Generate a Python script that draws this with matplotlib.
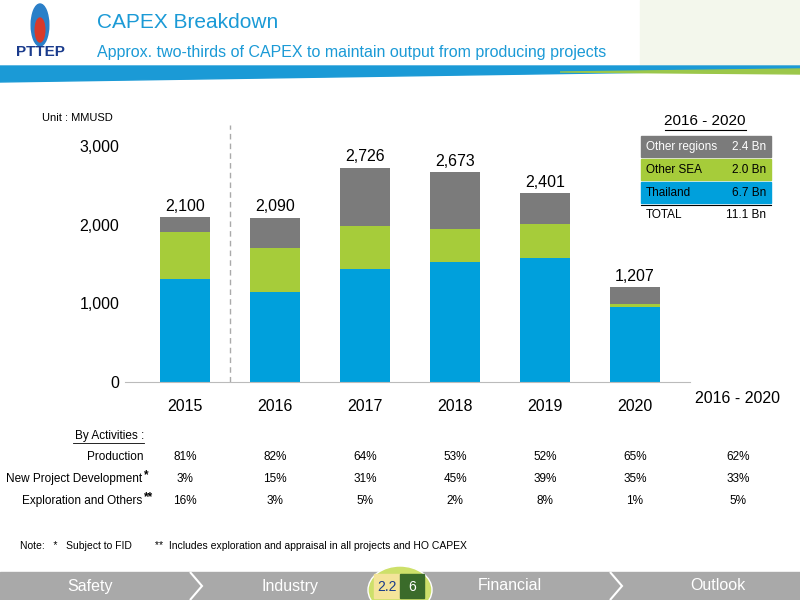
import matplotlib.pyplot as plt
from matplotlib.patches import Rectangle, Polygon, Circle, Ellipse

years = ['2015', '2016', '2017', '2018', '2019', '2020']
thailand = [1309, 1144, 1436, 1525, 1576, 953]
other_sea = [598, 559, 547, 420, 432, 38]
totals = [2100, 2090, 2726, 2673, 2401, 1207]
other_regions = [t - a - b for t, a, b in zip(totals, thailand, other_sea)]

legend_rows = [('Other regions', '2.4 Bn'), ('Other SEA', '2.0 Bn'), ('Thailand', '6.7 Bn')]
act_labels = ['Production', 'New Project Development', 'Exploration and Others']
act_marks = ['', '*', '**']
act_values = [
    ['81%', '82%', '64%', '53%', '52%', '65%', '62%'],
    ['3%', '15%', '31%', '45%', '39%', '35%', '33%'],
    ['16%', '3%', '5%', '2%', '8%', '1%', '5%'],
]

BLUE = '#00a0dc'
GREEN = '#a6cc3a'
GREY = '#7b7b7b'
TITLE_BLUE = '#1b9ad6'

W, H = 800, 600
fig = plt.figure(figsize=(8, 6), dpi=100)
plt.rcParams['font.family'] = ['Liberation Sans', 'DejaVu Sans']


def fx(x):
    return x / W


def fy(y):
    return 1 - y / H


def t(x, y, s, **kw):
    fig.text(fx(x), fy(y), s, **kw)


# header
fig.patches.append(Rectangle((fx(640), fy(66)), fx(160), 66 / H, transform=fig.transFigure,
                             color='#f3f7ec'))
t(97, 22, 'CAPEX Breakdown', fontsize=15, color=TITLE_BLUE, va='center')
t(97, 52, 'Approx. two-thirds of CAPEX to maintain output from producing projects',
  fontsize=11.5, color=TITLE_BLUE, va='center')
t(40, 52, 'PTTEP', fontsize=11, color='#1a3b8c', weight='bold', ha='center', va='center')
fig.patches.append(Ellipse((fx(40), fy(25)), 0.022, 0.07, transform=fig.transFigure,
                           color='#2a7fc8'))
fig.patches.append(Ellipse((fx(40), fy(30)), 0.012, 0.04, transform=fig.transFigure,
                           color='#d83a2a'))
fig.patches.append(Polygon([(fx(0), fy(66)), (fx(800), fy(66)), (fx(800), fy(70)),
                            (fx(0), fy(82))], closed=True, transform=fig.transFigure,
                           color=TITLE_BLUE))
fig.patches.append(Polygon([(fx(560), fy(72)), (fx(800), fy(69)), (fx(800), fy(74))],
                           closed=True, transform=fig.transFigure, color='#9cc74a'))

# chart
ax = fig.add_axes([fx(125), fy(382), fx(565), 236 / H])
x = list(range(len(years)))
ax.bar(x, thailand, width=0.56, color=BLUE)
ax.bar(x, other_sea, width=0.56, bottom=thailand, color=GREEN)
bot2 = [a + b for a, b in zip(thailand, other_sea)]
ax.bar(x, other_regions, width=0.56, bottom=bot2, color=GREY)
for i, v in enumerate(totals):
    ax.text(i, v + 40, f'{v:,}', ha='center', va='bottom', fontsize=11.5)
ax.set_xlim(-0.667, 5.61)
ax.set_ylim(0, 3000)
ax.set_yticks([0, 1000, 2000, 3000])
ax.set_yticklabels(['0', '1,000', '2,000', '3,000'], fontsize=11.5)
ax.set_xticks(x)
ax.set_xticklabels(years, fontsize=11.5)
ax.tick_params(length=0, pad=12)
ax.tick_params(axis='y', pad=4)
for s in ['top', 'right', 'left']:
    ax.spines[s].set_visible(False)
ax.spines['bottom'].set_color('#bbbbbb')
ax.plot([0.5, 0.5], [0, 3270], ls=(0, (4, 3)), color='#aaaaaa', lw=1, clip_on=False)
ax.text(6.14, -205, '2016 - 2020', ha='center', va='center', fontsize=11.5, clip_on=False)
t(42, 118, 'Unit : MMUSD', fontsize=8, va='center')

# legend table
t(705, 121, '2016 - 2020', fontsize=11, ha='center', va='center')
fig.lines.append(plt.Line2D([fx(665), fx(746)], [fy(130), fy(130)], color='k', lw=0.8,
                            transform=fig.transFigure))
colors = [GREY, GREEN, BLUE]
for k, ((name, val), c) in enumerate(zip(legend_rows, colors)):
    y0 = 136 + k * 23
    fig.patches.append(Rectangle((fx(641), fy(y0 + 21)), fx(130), 21 / H,
                                 transform=fig.transFigure, color=c))
    tc = 'white' if k == 0 else 'k'
    t(646, y0 + 11, name, fontsize=8.5, va='center', color=tc)
    t(766, y0 + 11, val, fontsize=8.5, va='center', ha='right', color=tc)
fig.lines.append(plt.Line2D([fx(641), fx(771)], [fy(205), fy(205)], color='k', lw=0.8,
                            transform=fig.transFigure))
t(646, 215, 'TOTAL', fontsize=8.5, va='center')
t(766, 215, '11.1 Bn', fontsize=8.5, va='center', ha='right')

# activities table
t(144, 436, 'By Activities :', fontsize=8.5, ha='right', va='center')
fig.lines.append(plt.Line2D([fx(73), fx(144)], [fy(443), fy(443)], color='k', lw=0.6,
                            transform=fig.transFigure))
cols = [185, 275, 365, 455, 545, 635, 738]
for r, (lab, mark, vals) in enumerate(zip(act_labels, act_marks, act_values)):
    y = 457 + r * 22
    t(143 if not mark else 142, y, lab, fontsize=8.5, ha='right', va='center')
    if mark:
        t(144, y - 4, mark, fontsize=8.5, ha='left', va='center', weight='bold')
    for cx, v in zip(cols, vals):
        t(cx, y, v, fontsize=8.5, ha='center', va='center')

t(20, 546, 'Note:   *   Subject to FID        **  Includes exploration and appraisal in all projects and HO CAPEX',
  fontsize=7.5, va='center')

# footer
fig.patches.append(Rectangle((0, 0), 1, 28 / H, transform=fig.transFigure, color='#a9a9a9'))
for cx in [190, 610]:
    fig.patches.append(Polygon([(fx(cx), fy(572)), (fx(cx + 12), fy(586)), (fx(cx), fy(600))],
                               closed=False, fill=False, edgecolor='white', lw=1.5,
                               transform=fig.transFigure))
for cx, s in [(90, 'Safety'), (290, 'Industry'), (510, 'Financial'), (718, 'Outlook')]:
    t(cx, 586, s, fontsize=11.5, color='white', ha='center', va='center')
fig.patches.append(Circle((fx(400), fy(590)), 0.04, transform=fig.transFigure,
                          color='#cde06a', ec='white'))
fig.patches.append(Rectangle((fx(374), fy(598)), fx(26), 24 / H, transform=fig.transFigure,
                             color='#f4e49a'))
fig.patches.append(Rectangle((fx(400), fy(598)), fx(24), 24 / H, transform=fig.transFigure,
                             color='#3a6b2a'))
t(387, 587, '2.2', fontsize=10, ha='center', va='center', color='#1a3b8c')
t(412, 587, '6', fontsize=10, ha='center', va='center', color='white')

fig.savefig('out.png', dpi=100)
